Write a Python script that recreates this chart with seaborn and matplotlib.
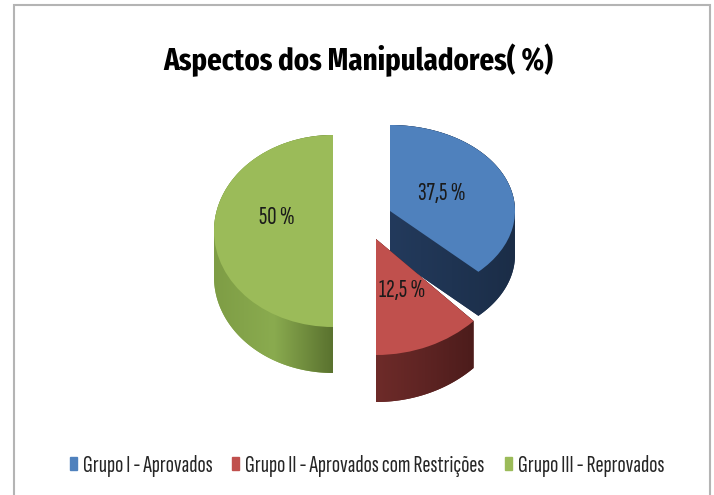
import matplotlib
matplotlib.use("Agg")
import numpy as np
import matplotlib.pyplot as plt
import seaborn as sns
from matplotlib import font_manager
from matplotlib.patches import Patch, Rectangle, Polygon
from matplotlib.colors import LinearSegmentedColormap

# data
categories = ["Grupo I - Aprovados", "Grupo II - Aprovados com Restrições", "Grupo III - Reprovados"]
values = [37.5, 12.5, 50.0]
top_colors = ["#4F81BD", "#C0504D", "#9BBB59"]
side_colors = [["#233a5c", "#1f3452", "#1b2d47"],
               ["#6e2b29", "#5e2423", "#4c1c1b"],
               ["#7e9d45", "#8aab4f", "#5a722f"]]

sns.set_style("white")
candidates = ["Sofia Sans Extra Condensed", "Fira Sans Extra Condensed", "Carlito"]
font_list = font_manager.fontManager.ttflist
available = {f.name for f in font_list}
main_font = next((f for f in candidates if f in available), "DejaVu Sans")
bold_fonts = {f.name for f in font_list if isinstance(f.weight, int) and f.weight >= 700
              or f.weight in ("bold", "heavy", "black", "extra bold")}
title_font = next((f for f in candidates if f in bold_fonts), main_font)
plt.rcParams["font.family"] = [main_font, "DejaVu Sans"]

W, H = 714, 495
fig = plt.figure(figsize=(W / 100, H / 100), dpi=100)
fig.patch.set_facecolor("white")


def hull(points):
    pts = sorted(set(map(tuple, np.round(points, 6))))
    def cross(o, a, b):
        return (a[0] - o[0]) * (b[1] - o[1]) - (a[1] - o[1]) * (b[0] - o[0])
    lower, upper = [], []
    for p in pts:
        while len(lower) >= 2 and cross(lower[-2], lower[-1], p) <= 0:
            lower.pop()
        lower.append(p)
    for p in reversed(pts):
        while len(upper) >= 2 and cross(upper[-2], upper[-1], p) <= 0:
            upper.pop()
        upper.append(p)
    return np.array(lower[:-1] + upper[:-1])


# every slice gets its own axes so centre / squash / depth can fake the perspective
# (cx, cy, rx, ry, depth) in pixels
geometry = [
    (390, 211, 125, 86, 44),
    (376, 239, 138, 116, 47),
    (333, 231, 119, 96, 46),
]
draw_order = [0, 2, 1]  # back to front

for i in draw_order:
    cx, cy, rx, ry, depth = geometry[i]
    ax = fig.add_axes([0, 0, 1, 1])
    wedges, _ = ax.pie(values, colors=top_colors, startangle=90, counterclock=False,
                       radius=1, wedgeprops=dict(linewidth=0))
    for j, w in enumerate(wedges):
        w.set_visible(j == i)
        w.set_zorder(3)
    w = wedges[i]
    t = np.radians(np.linspace(w.theta1, w.theta2, 200))
    pts = np.column_stack([np.cos(t), np.sin(t)]) * w.r + np.array(w.center)
    pts = np.vstack([pts, w.center])
    d = depth / ry
    side_pts = hull(np.vstack([pts, pts - [0, d]]))
    side = Polygon(side_pts, closed=True, facecolor=side_colors[i][1], edgecolor="none", zorder=1)
    ax.add_patch(side)
    cmap = LinearSegmentedColormap.from_list("side", side_colors[i])
    x0, x1 = side_pts[:, 0].min(), side_pts[:, 0].max()
    y0, y1 = side_pts[:, 1].min(), side_pts[:, 1].max()
    im = ax.imshow(np.linspace(0, 1, 256).reshape(1, -1), cmap=cmap, extent=[x0, x1, y0, y1],
                   aspect="auto", zorder=2, interpolation="bilinear")
    im.set_clip_path(side)
    ax.set_aspect("auto")
    ax.set_xlim(-cx / rx, (W - cx) / rx)
    ax.set_ylim(-(H - cy) / ry, cy / ry)
    ax.axis("off")

renderer = fig.canvas.get_renderer()


def fit(txt, target_px):
    wpx = txt.get_window_extent(renderer).width
    txt.set_fontsize(txt.get_fontsize() * target_px / wpx)
    return txt.get_fontsize()


# value labels
label_pos = [(442, 193), (402, 290), (277, 218)]
label_fs = None
for v, (x, y) in zip(values, label_pos):
    txt = f"{v:g}".replace(".", ",") + " %"
    t = fig.text(x / W, 1 - y / H, txt, ha="center", va="center", fontsize=11, color="#1a1a1a")
    if label_fs is None:
        label_fs = fit(t, 47)
    else:
        t.set_fontsize(label_fs)

title = fig.text(358 / W, 1 - 70 / H, "Aspectos dos Manipuladores( %)", fontsize=24,
                 fontweight="bold", family=[title_font, "DejaVu Sans"],
                 ha="center", va="baseline", color="black")
fit(title, 390)

probe = fig.text(0, 0, categories[0], fontsize=11)
leg_fs = fit(probe, 130)
probe.remove()
px = leg_fs * 100 / 72

handles = [Patch(color=c, label=l) for c, l in zip(top_colors, categories)]
fig.legend(handles=handles, loc="center", bbox_to_anchor=(367 / W, 1 - 466 / H), ncol=3,
           frameon=False, fontsize=leg_fs, handlelength=7 / px, handleheight=11 / px,
           handletextpad=6 / px, columnspacing=20 / px, borderpad=0)

# chart area border
fig.add_artist(Rectangle((14 / W, -0.01), (710 - 14) / W, 1 - 5 / H + 0.01,
                         transform=fig.transFigure, fill=False, edgecolor="#b4b4b4", lw=1.5))

fig.savefig("out.png", dpi=100)
